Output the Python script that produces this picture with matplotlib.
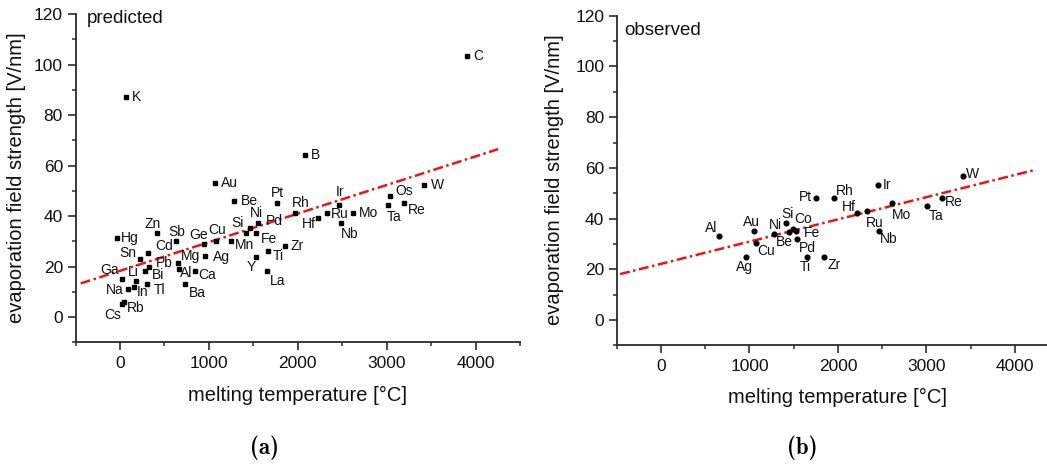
import os
import matplotlib
matplotlib.use("Agg")
import matplotlib.pyplot as plt
from matplotlib.font_manager import FontProperties
from matplotlib.ticker import FixedLocator, MultipleLocator

plt.rcParams['font.family'] = ['Liberation Sans', 'DejaVu Sans']

# ---- predicted evaporation fields ----
pred_elem = ['Cs', 'Rb', 'K', 'Na', 'Li', 'In', 'Ga', 'Sn', 'Bi', 'Tl', 'Cd', 'Pb',
             'Zn', 'Hg', 'Sb', 'Mg', 'Al', 'Ba', 'Ca', 'Ge', 'Ag', 'Au', 'Cu', 'Mn',
             'Be', 'Si', 'Ni', 'Y', 'Fe', 'Pd', 'Ti', 'La', 'Pt', 'Zr', 'Rh', 'B',
             'Hf', 'Ru', 'Ir', 'Nb', 'Mo', 'Ta', 'Os', 'Re', 'W', 'C']
pred_tm = [26, 41, 64, 94, 184, 154, 26, 229, 277, 307, 319, 330,
           420, -37, 633, 652, 660, 727, 844, 941, 960, 1065, 1085, 1245,
           1286, 1414, 1459, 1534, 1534, 1556, 1669, 1657, 1769, 1860, 1965, 2077,
           2231, 2332, 2467, 2486, 2621, 3018, 3037, 3191, 3423, 3899]
pred_field = [5.0, 6.0, 87.1, 11.0, 14.2, 12.0, 15.2, 23.1, 18.2, 13.2, 25.2, 20.0,
              33.1, 31.2, 30.2, 21.4, 19.1, 13.2, 18.2, 29.1, 24.1, 53.1, 30.2, 30.2,
              46.0, 33.3, 35.2, 23.7, 33.3, 37.3, 26.2, 18.2, 45.2, 28.1, 41.3, 64.2,
              39.2, 41.3, 44.2, 37.3, 41.3, 44.2, 48.1, 45.2, 52.2, 103.2]
pred_fit_tm = [-442, 4255]
pred_fit_field = [13.3, 66.5]

# ---- observed evaporation fields ----
obs_elem = ['Al', 'Au', 'Ag', 'Cu', 'Be', 'Si', 'Ni', 'Co', 'Fe', 'Pd', 'Ti', 'Pt',
            'Zr', 'Rh', 'Hf', 'Ru', 'Ir', 'Nb', 'Mo', 'Ta', 'Re', 'W']
obs_tm = [659, 1054, 957, 1077, 1280, 1409, 1446, 1495, 1525, 1540, 1653, 1755,
          1842, 1951, 2218, 2324, 2455, 2467, 2614, 3002, 3172, 3409]
obs_field = [33.1, 35.1, 25.0, 30.2, 33.9, 38.1, 34.8, 35.8, 35.1, 32.1, 25.0, 48.0,
             25.0, 48.0, 42.1, 43.0, 53.1, 35.1, 46.0, 45.0, 48.0, 56.9]
obs_fit_tm = [-463, 4226]
obs_fit_field = [18.1, 59.2]

# label placement: offset of the label centre from its marker, in pixels
pred_offsets = {
    'Cs': (-10, -10.7), 'Rb': (12.3, -6.6), 'K': (11, 0), 'Na': (-14, -0.7),
    'Li': (-2.6, 9.3), 'In': (9.3, -5.3), 'Ga': (-13, 8.7), 'Sn': (-12, 5.4),
    'Bi': (13, -4.2), 'Tl': (12.5, -6.2), 'Cd': (15.7, 7.6), 'Pb': (15, 4),
    'Zn': (-4.6, 9.3), 'Hg': (13.5, 0), 'Sb': (1, 9), 'Mg': (13, 7.3),
    'Al': (7.3, -4.6), 'Ba': (12.6, -9.6), 'Ca': (12.3, -4), 'Ge': (-5.4, 8.3),
    'Ag': (15.7, -1.3), 'Au': (14.6, 0), 'Cu': (0.6, 10.7), 'Mn': (13.6, -4.7),
    'Be': (15, 0), 'Si': (-8.4, 10), 'Ni': (6.3, 14.7), 'Y': (-4.6, -9.7),
    'Fe': (12.7, -6), 'Pd': (15.7, 1.7), 'Ti': (10.4, -5), 'La': (10, -9.7),
    'Pt': (0, 9.4), 'Zr': (12, 0), 'Rh': (6, 10), 'B': (10.6, 0),
    'Hf': (-9, -6.3), 'Ru': (12, -1.6), 'Ir': (0.7, 13), 'Nb': (8.3, -11.3),
    'Mo': (15.3, 0), 'Ta': (6, -12), 'Os': (14.7, 4.3), 'Re': (13.6, -7.3),
    'W': (13, 0), 'C': (11.7, 0),
}
obs_offsets = {
    'Al': (-8.3, 7.7), 'Au': (-2.3, 9), 'Ag': (-0.7, -10.6), 'Cu': (9.4, -7.7),
    'Be': (9.7, -7.7), 'Si': (1.6, 9.3), 'Ni': (-14, 6.7), 'Co': (10, 9.8),
    'Fe': (15.7, -2.0), 'Pd': (10, -9.4), 'Ti': (-2.3, -10.6), 'Pt': (-11.3, 1.6),
    'Zr': (10, -8.3), 'Rh': (11.6, 7.6), 'Hf': (-8, 6.6), 'Ru': (8.3, -11.7),
    'Ir': (8.4, 0.7), 'Nb': (9, -8.3), 'Mo': (9.4, -11.7), 'Ta': (9.3, -9.7),
    'Re': (11.6, -3.4), 'W': (10, 1.7),
}

W, H = 1047, 466
fig = plt.figure(figsize=(W / 100, H / 100), dpi=100)

axis_col = '#2b2b2b'
text_col = '#111111'
fit_col = '#ee1414'
fit_style = (0, (4.0, 1.4, 1.0, 1.4))

# Computer Modern bold for the sub-figure captions
cm_bold = FontProperties(
    fname=os.path.join(matplotlib.get_data_path(), 'fonts', 'ttf', 'cmb10.ttf'),
    size=16.5)


def style_axes(ax, xmax):
    ax.set_xlim(-500, xmax)
    ax.set_ylim(-10, 120)
    for side in ('top', 'right'):
        ax.spines[side].set_visible(False)
    for side in ('left', 'bottom'):
        ax.spines[side].set_color(axis_col)
        ax.spines[side].set_linewidth(1.3)
    ax.xaxis.set_major_locator(FixedLocator([0, 1000, 2000, 3000, 4000]))
    ax.xaxis.set_minor_locator(MultipleLocator(500))
    ax.yaxis.set_major_locator(FixedLocator(list(range(0, 121, 20))))
    ax.yaxis.set_minor_locator(MultipleLocator(10))
    ax.tick_params(which='major', length=6, width=1.2, color=axis_col,
                   labelsize=12.5, labelcolor=text_col, direction='out')
    ax.tick_params(which='minor', length=3.2, width=1.1, color=axis_col,
                   direction='out')
    ax.tick_params(axis='x', which='major', pad=4)
    ax.tick_params(axis='y', which='major', pad=3)
    ax.patch.set_alpha(0)


def label_points(ax, names, xs, ys, offsets):
    for name, x, y in zip(names, xs, ys):
        dx, dy = offsets[name]
        ax.annotate(name, (x, y), xytext=(dx, dy), textcoords='offset pixels',
                    ha='center', va='center', fontsize=10, color=text_col)


# left panel: predicted
ax1 = fig.add_axes([75.5 / W, 1 - 342.3 / H, (520 - 75.5) / W, (342.3 - 14) / H])
style_axes(ax1, 4500)
ax1.plot(pred_fit_tm, pred_fit_field, color=fit_col, lw=1.8, linestyle=fit_style,
         zorder=2)
ax1.plot(pred_tm, pred_field, linestyle='none', marker='s', markersize=3.1,
         color='black', zorder=3)
label_points(ax1, pred_elem, pred_tm, pred_field, pred_offsets)

# right panel: observed
ax2 = fig.add_axes([616.7 / W, 1 - 345.4 / H, (W - 616.7) / W, (345.4 - 15.7) / H])
style_axes(ax2, (W - 661) / 0.0885)
ax2.plot(obs_fit_tm, obs_fit_field, color=fit_col, lw=1.8, linestyle=fit_style,
         zorder=2)
ax2.plot(obs_tm, obs_field, linestyle='none', marker='o', markersize=3.4,
         color='black', zorder=3)
label_points(ax2, obs_elem, obs_tm, obs_field, obs_offsets)

# panel titles, axis labels and sub-figure captions
fig.text(87 / W, 1 - 23 / H, 'predicted', fontsize=13.5, va='baseline', ha='left',
         color=text_col)
fig.text(624.3 / W, 1 - 35 / H, 'observed', fontsize=13.5, va='baseline', ha='left',
         color=text_col)

ylab = 'evaporation field strength [V/nm]'
xlab = 'melting temperature [°C]'
fig.text(17 / W, 1 - 178 / H, ylab, rotation=90, fontsize=14.5, ha='center',
         va='center', color=text_col)
fig.text(555 / W, 1 - 180 / H, ylab, rotation=90, fontsize=14.5, ha='center',
         va='center', color=text_col)
fig.text(298 / W, 1 - 395 / H, xlab, fontsize=14.5, ha='center', va='center',
         color=text_col)
fig.text(838 / W, 1 - 397 / H, xlab, fontsize=14.5, ha='center', va='center',
         color=text_col)

fig.text(264 / W, 1 - 448 / H, '(a)', fontproperties=cm_bold, ha='center',
         va='center')
fig.text(802 / W, 1 - 448 / H, '(b)', fontproperties=cm_bold, ha='center',
         va='center')

fig.savefig('out.png', dpi=100)
